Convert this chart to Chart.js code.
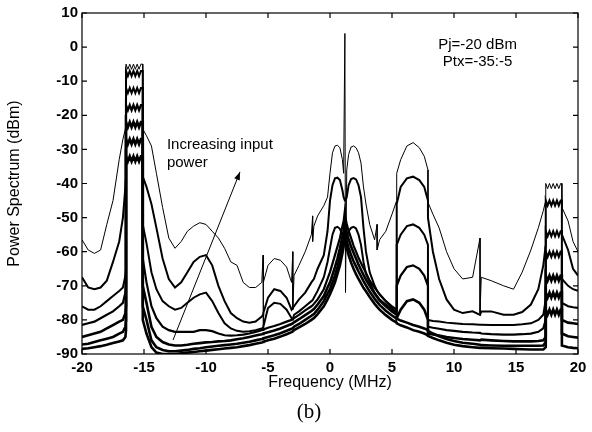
<!DOCTYPE html>
<html>
<head>
<meta charset="utf-8">
<script src="https://cdn.jsdelivr.net/npm/chart.js@4.4.0/dist/chart.umd.min.js"></script>
<style>
  html, body { margin: 0; padding: 0; background: #fff; }
</style>
</head>
<body>
<canvas id="spectrum" width="592" height="432"></canvas>
<script>
// frequency grid (MHz); repeated values make the vertical walls / spikes
const freq = [
  -20, -19.5, -19, -18.5, -18, -17.5, -17, -16.7, -16.5, -16.45,
  -16.45, -16.3, -16.15, -16.0, -15.85, -15.7, -15.55, -15.4, -15.25, -15.1,
  -15.1, -14.8, -14.4, -14, -13.5, -13, -12.5, -12, -11.5, -11, -10.5, -10,
  -9.5, -9, -8.5, -8, -7.5, -7, -6.5, -6, -5.5, -5.4, -5.4,
  -5.35, -5, -4.5, -4, -3.5, -3.1, -3.0, -3.0,
  -2.9, -2.5, -2, -1.5, -1.4, -1.4,
  -1.3, -1, -0.5, -0.2, 0, 0.2, 0.4, 0.6, 0.8, 1.0, 1.1, 1.2, 1.25,
  1.35, 1.5, 1.7, 1.9, 2.1, 2.3, 2.5, 2.7, 2.9, 3.2, 3.6, 3.8, 3.8, 4.0, 4.5, 5.0, 5.38,
  5.38, 5.7, 6.2, 6.7, 7.2, 7.6, 7.9,
  7.9, 8.3, 8.8, 9.4, 10, 10.7, 11.5, 12.1, 12.1,
  12.2, 13, 14, 14.8, 15.5, 16.2, 16.8, 17.2, 17.4,
  17.4, 17.55, 17.7, 17.85, 18.0, 18.15, 18.3, 18.45, 18.6, 18.7,
  18.7, 19.2, 19.6, 20
];

// power spectrum (dBm), one array per Ptx step
const pw5 = [
  -56.5, -59.5, -60.5, -59.5, -52, -45, -33, -27, -24, -23,
  -5, -6.5, -5, -6.5, -5, -6.5, -5, -6.5, -5, -5,
  -24, -26, -29, -37, -47, -56, -59, -57, -54, -52.5, -51.5, -52,
  -54, -56, -59, -63, -64, -69, -70.5, -70.5, -69, -61, -82,
  -69, -64, -62, -62.5, -64.5, -69, -60, -77,
  -67, -64, -60, -55, -49.5, -57,
  -52.5, -49.5, -46.5, -44, -37, -31, -29, -28.8, -29.5, -33, -37, 4, -72,
  -36, -31.5, -29.3, -29, -29.5, -31, -34, -41, -46, -52, -56.5, -52, -59.5, -56.5, -54, -49, -45,
  -37, -33, -29, -28, -29.5, -32, -36,
  -45.5, -49, -53, -60, -65, -68, -67.5, -56, -78,
  -67.5, -68.5, -70, -71, -66, -59.5, -53, -48, -45,
  -40, -41.5, -40, -41.5, -40, -41.5, -40, -41.5, -40, -40,
  -47, -51, -57, -60
];
const pw10 = [
  -67.5, -70.5, -71, -70.5, -68.5, -63, -57, -50, -41, -38,
  -7, -8.5, -7, -8.5, -7, -8.5, -7, -8.5, -7, -7,
  -38, -41, -46, -53, -62, -68, -70.5, -69, -66, -63, -61.5, -61,
  -64, -70, -74.5, -78, -79.5, -80.5, -80.8, -80.5, -79, -78.5, -78.5,
  -78, -73.5, -71, -71.5, -73.5, -77, -76.5, -76.5,
  -76, -74, -72, -69, -68.5, -68.5,
  -68, -65, -61, -54, -45, -40.5, -38.5, -38.3, -39, -42, -44, -45, -45,
  -44, -40.5, -38.7, -38.4, -38.8, -40.5, -44, -53, -60, -66, -70, -71.5, -71.5, -72.5, -74.5, -76, -77,
  -46, -41, -38.5, -38, -39, -41, -45,
  -50, -60, -68, -74, -77, -78, -77.5, -78.5, -78.5,
  -77.5, -77.5, -78.5, -78.5, -77.7, -75.5, -71, -64, -58,
  -45, -46.5, -45, -46.5, -45, -46.5, -45, -46.5, -45, -45,
  -55, -59.5, -65, -67
];
const pw15 = [
  -76, -77, -77, -76, -74.5, -73, -71.5, -70.5, -67, -65,
  -12, -13.5, -12, -13.5, -12, -13.5, -12, -13.5, -12, -12,
  -52, -57.5, -66, -71, -74.5, -76, -77, -76.5, -75, -73.5, -72.5, -72,
  -74.5, -78, -81, -82.5, -83.2, -83.5, -83.3, -83, -82.5, -82.3, -82.3,
  -82, -76.5, -75, -75.3, -77, -79.5, -79.8, -79.8,
  -78.5, -77.5, -76, -74.5, -74.2, -74.2,
  -73.5, -71.5, -67.5, -63, -59, -55, -53, -52.7, -53.3, -55, -56, -57, -57,
  -56, -54, -53, -52.7, -53.2, -55, -58, -63, -66.5, -69, -72, -73, -73, -74, -75.5, -77, -78,
  -58, -55, -52.5, -52, -53, -55, -58,
  -80, -80.3, -80.5, -80.8, -81, -81.2, -81.3, -81.4, -81.4,
  -81.4, -81.5, -81.5, -81.5, -81.3, -81, -80, -78.5, -74,
  -54, -55.5, -54, -55.5, -54, -55.5, -54, -55.5, -54, -54,
  -68, -70, -71, -71.5
];
const pw20 = [
  -81.5, -81, -80.5, -79.5, -78.5, -77.5, -76, -75, -72, -70,
  -17, -18.5, -17, -18.5, -17, -18.5, -17, -18.5, -17, -17,
  -62, -69, -76, -79.5, -82, -83, -83.5, -83.5, -83.5, -83.5, -83, -83,
  -83.3, -84, -84.5, -84.6, -84.5, -84.3, -84, -83.5, -83, -82.9, -82.9,
  -82.8, -82.3, -81.8, -81.2, -80.5, -80, -79.8, -79.8,
  -79.5, -78.5, -77.2, -76, -75.7, -75.7,
  -75.3, -74, -71, -68, -66, -63.5, -61, -58.5, -56, -52.5, -51, -48, -50,
  -52, -53.8, -56, -58.2, -60, -61.8, -63.3, -64.8, -66.2, -68.5, -70.5, -71.5, -71.5, -72.5, -74.5, -76.5, -78,
  -70, -67, -64.5, -64, -65, -67, -70,
  -82, -82.3, -82.6, -83, -83.2, -83.5, -83.7, -83.8, -83.8,
  -84, -84.2, -84.3, -84.3, -84.2, -84, -83.5, -82.5, -80,
  -60, -61.5, -60, -61.5, -60, -61.5, -60, -61.5, -60, -60,
  -75, -76, -76.3, -76.5
];
const pw25 = [
  -85, -84.5, -84, -83.5, -82.5, -81.5, -80.5, -80, -78, -76,
  -22, -23.5, -22, -23.5, -22, -23.5, -22, -23.5, -22, -22,
  -70, -75, -82, -85, -86.5, -87.2, -87.5, -87.5, -87.3, -87, -86.8, -86.6,
  -86.5, -86.3, -86.2, -86, -85.7, -85.4, -85, -84.6, -84.2, -84.1, -84.1,
  -84, -83.6, -83.1, -82.5, -81.8, -81.2, -81, -81,
  -80.7, -79.8, -78.6, -77.4, -77.1, -77.1,
  -76.8, -75.5, -73, -70.5, -69, -66.8, -64.5, -62, -59, -55.5, -54, -51, -52,
  -54.5, -56.3, -58.5, -60.3, -62, -63.8, -65.3, -66.8, -68.2, -70, -72.3, -73.3, -73.3, -74.3, -76, -77.5, -78.5,
  -79.5, -77, -74.5, -74, -75, -77, -80,
  -84, -84.3, -84.6, -85, -85.3, -85.6, -85.8, -86, -86,
  -85.8, -86, -86.2, -86.3, -86.3, -86.3, -86.2, -86, -85,
  -67, -68.5, -67, -68.5, -67, -68.5, -67, -68.5, -67, -67,
  -80, -80.8, -81, -81.2
];
const pw30 = [
  -87.2, -87, -86.5, -86, -85.5, -85, -84, -83.5, -82, -80,
  -27, -28.5, -27, -28.5, -27, -28.5, -27, -28.5, -27, -27,
  -76, -80, -86, -88, -88.8, -89.2, -89.2, -89, -88.8, -88.5, -88.3, -88,
  -87.8, -87.6, -87.4, -87.2, -87, -86.7, -86.4, -86, -85.6, -85.5, -85.5,
  -85.4, -85, -84.5, -83.9, -83.2, -82.6, -82.4, -82.4,
  -82, -81.2, -80, -78.8, -78.5, -78.5,
  -78.3, -77, -74.5, -72.3, -71, -69, -67, -64.5, -61.5, -58, -56.5, -53, -54,
  -57, -58.8, -61, -62.8, -64.3, -65.8, -67.2, -68.6, -69.9, -71.7, -73.8, -74.7, -74.7, -75.6, -77.3, -78.7, -79.6,
  -79.6, -80.2, -80.8, -81.5, -82, -82.5, -83,
  -83.2, -84, -84.8, -85.6, -86.2, -86.7, -87, -87.3, -87.3,
  -87.4, -87.5, -87.6, -87.6, -87.6, -87.6, -87.6, -87.5, -86.5,
  -72, -73.5, -72, -73.5, -72, -73.5, -72, -73.5, -72, -72,
  -84, -84.8, -85, -85.2
];
const pw35 = [
  -88.5, -88.3, -88, -87.7, -87.3, -86.8, -86.3, -86, -85, -83,
  -32, -33.5, -32, -33.5, -32, -33.5, -32, -33.5, -32, -32,
  -80, -84, -88, -89.6, -90, -90, -90, -89.8, -89.6, -89.4, -89.2, -89,
  -88.8, -88.6, -88.4, -88.2, -88, -87.7, -87.4, -87, -86.6, -86.5, -86.5,
  -86.4, -86, -85.5, -84.9, -84.2, -83.6, -83.4, -83.4,
  -83, -82.2, -81.2, -80, -79.7, -79.7,
  -79.5, -78.3, -76, -74, -72.5, -70.8, -69, -66.5, -64, -60.5, -58.5, -55, -56,
  -59, -61, -63.2, -65, -66.6, -68, -69.3, -70.6, -71.6, -73.3, -75.3, -76.2, -76.2, -77, -78.6, -80, -80.8,
  -81, -81.6, -82.2, -83, -83.5, -84, -84.5,
  -84.7, -85.3, -86, -86.7, -87.3, -87.7, -88, -88.2, -88.2,
  -88.2, -88.3, -88.4, -88.5, -88.6, -88.7, -88.7, -88.7, -88,
  -77, -78.5, -77, -78.5, -77, -78.5, -77, -78.5, -77, -77,
  -87.5, -88, -88.2, -88.3
];

const ptxLabels = ['Ptx=-5', 'Ptx=-10', 'Ptx=-15', 'Ptx=-20', 'Ptx=-25', 'Ptx=-30', 'Ptx=-35'];
const series = [pw5, pw10, pw15, pw20, pw25, pw30, pw35];
const lineWidths = [1, 2, 2, 2.2, 2.6, 2.6, 2.6];

const xTicks = [-20, -15, -10, -5, 0, 5, 10, 15, 20];
const yTicks = [-90, -80, -70, -60, -50, -40, -30, -20, -10, 0, 10];

// box, inward ticks and the text notes
const frame = {
  id: 'frame',
  afterDraw(chart) {
    const {ctx, chartArea: a, scales: {x, y}} = chart;
    ctx.save();
    ctx.strokeStyle = '#000';
    ctx.lineWidth = 1.2;
    ctx.strokeRect(a.left, a.top, a.right - a.left, a.bottom - a.top);
    ctx.beginPath();
    xTicks.forEach(v => {
      const px = x.getPixelForValue(v);
      ctx.moveTo(px, a.bottom); ctx.lineTo(px, a.bottom - 5);
      ctx.moveTo(px, a.top); ctx.lineTo(px, a.top + 5);
    });
    yTicks.forEach(v => {
      const py = y.getPixelForValue(v);
      ctx.moveTo(a.left, py); ctx.lineTo(a.left + 5, py);
      ctx.moveTo(a.right, py); ctx.lineTo(a.right - 5, py);
    });
    ctx.stroke();

    ctx.fillStyle = '#000';
    ctx.font = '15px "Liberation Sans", Arial, sans-serif';
    ctx.textBaseline = 'middle';
    ctx.textAlign = 'center';
    ctx.fillText('Pj=-20 dBm', x.getPixelForValue(11.9), y.getPixelForValue(0.6));
    ctx.fillText('Ptx=-35:-5', x.getPixelForValue(11.9), y.getPixelForValue(-4.4));
    ctx.textAlign = 'left';
    ctx.fillText('Increasing input', x.getPixelForValue(-13.15), y.getPixelForValue(-28.7));
    ctx.fillText('power', x.getPixelForValue(-13.15), y.getPixelForValue(-34));

    // arrow
    const x0 = x.getPixelForValue(-12.66), y0 = y.getPixelForValue(-85.9);
    const x1 = x.getPixelForValue(-7.26), y1 = y.getPixelForValue(-36.6);
    const ang = Math.atan2(y1 - y0, x1 - x0);
    ctx.lineWidth = 1;
    ctx.beginPath();
    ctx.moveTo(x0, y0); ctx.lineTo(x1, y1);
    ctx.stroke();
    ctx.beginPath();
    ctx.moveTo(x1, y1);
    ctx.lineTo(x1 - 8 * Math.cos(ang) + 3 * Math.sin(ang), y1 - 8 * Math.sin(ang) - 3 * Math.cos(ang));
    ctx.lineTo(x1 - 8 * Math.cos(ang) - 3 * Math.sin(ang), y1 - 8 * Math.sin(ang) + 3 * Math.cos(ang));
    ctx.closePath();
    ctx.fill();

    ctx.font = '21px "Liberation Serif", "Times New Roman", serif';
    ctx.textAlign = 'center';
    ctx.fillText('(b)', 309, 412);
    ctx.restore();
  }
};

const ctx = document.getElementById('spectrum').getContext('2d');
new Chart(ctx, {
  type: 'line',
  data: {
    datasets: series.map((s, i) => ({
      label: ptxLabels[i],
      data: freq.map((f, k) => ({x: f, y: s[k]})),
      borderColor: '#000',
      borderWidth: lineWidths[i],
      pointRadius: 0,
      tension: 0,
      fill: false
    }))
  },
  options: {
    responsive: false,
    animation: false,
    layout: {
      padding: {left: 0, right: 14, top: 13, bottom: 38}
    },
    plugins: {
      legend: {display: false},
      tooltip: {enabled: false}
    },
    scales: {
      x: {
        type: 'linear',
        min: -20, max: 20,
        grid: {display: false, drawTicks: false},
        border: {display: false},
        ticks: {
          stepSize: 5, padding: 5, color: '#000',
          font: {family: '"Liberation Sans", Arial, sans-serif', size: 15, weight: 'bold'}
        },
        title: {
          display: true, text: 'Frequency (MHz)', color: '#000',
          padding: {top: 0, bottom: 2},
          font: {family: '"Liberation Sans", Arial, sans-serif', size: 16}
        },
        afterFit: s => { s.height = 40; }
      },
      y: {
        min: -90, max: 10,
        grid: {display: false, drawTicks: false},
        border: {display: false},
        ticks: {
          stepSize: 10, padding: 4, color: '#000',
          font: {family: '"Liberation Sans", Arial, sans-serif', size: 15, weight: 'bold'}
        },
        title: {
          display: true, text: 'Power Spectrum (dBm)', color: '#000',
          padding: {top: 5, bottom: 0},
          font: {family: '"Liberation Sans", Arial, sans-serif', size: 16}
        },
        afterFit: s => { s.width = 82; }
      }
    }
  },
  plugins: [frame]
});
</script>
</body>
</html>
